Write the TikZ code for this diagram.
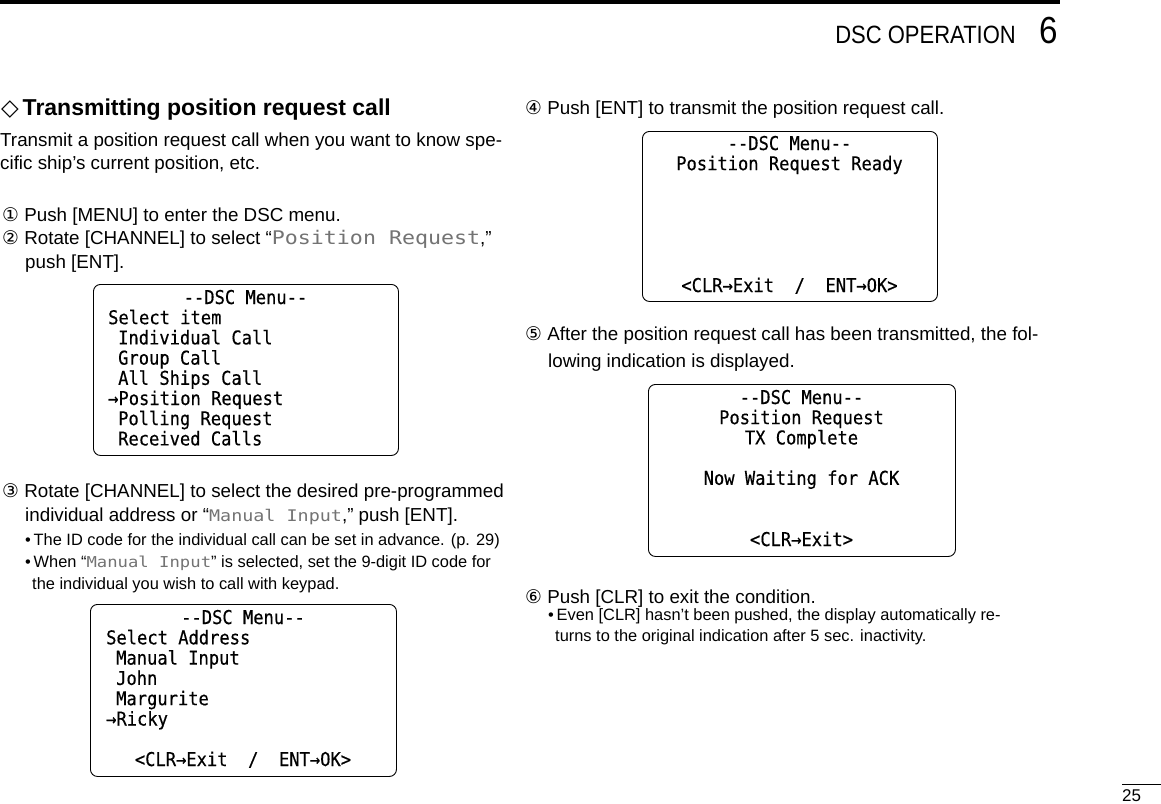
\documentclass[tikz,border=0pt]{standalone}
\usepackage{fontspec}
\setmainfont{Liberation Sans}
\newfontfamily\symfont{DejaVu Sans}
\newfontfamily\lcdfont{DejaVu Sans Mono}[FakeStretch=0.9, FakeBold=0.4]
\newfontfamily\lcdwide{DejaVu Sans Mono}[FakeStretch=1.15]
\newfontfamily\narrowfont{Liberation Sans}[FakeStretch=0.88]

\newcommand{\circnum}[1]{{\symfont #1}}
\newcommand{\lcdq}[2]{{\lcdwide\fontsize{#1}{#1}\selectfont\color{black!55}#2}}

\begin{document}
\begin{tikzpicture}[x=1pt, y=-1pt]
      \tikzstyle{body} = [anchor=base west, inner sep=0pt, font=\fontsize{18.8}{22}\selectfont]
      \tikzstyle{note} = [anchor=base west, inner sep=0pt, font=\fontsize{16.4}{19}\selectfont]
      \tikzstyle{screen} = [draw=black, line width=0.9pt, rounded corners=7pt, inner sep=0pt, anchor=north west]
      \tikzstyle{lcd} = [anchor=base west, inner sep=0pt, font=\lcdfont\fontsize{19}{20}\selectfont]
      \tikzstyle{lcdc} = [lcd, anchor=base]

      \useasboundingbox (0,0) rectangle (1161,803);

      % page header
      \draw [line width=4pt] (0,2) -- (1060,2);
      \node (title) [anchor=base east, inner sep=0pt, font=\narrowfont\fontsize{25}{25}\selectfont] at (1016,43) {DSC OPERATION};
      \node (chap) [anchor=base west, inner sep=0pt, font=\narrowfont\fontsize{37.7}{38}\selectfont] at (1039,43) {6};

      % left column
      \node (head) [body, font=\bfseries\fontsize{23}{26}\selectfont] at (1,115) {{\symfont ◇}\,Transmitting position request call};
      \node (intro1) [body] at (0,146) {Transmit a position request call when you want to know spe-};
      \node (intro2) [body] at (0,169) {cific ship’s current position, etc.};
      \node (st1) [body] at (2,221) {\circnum{①} Push [MENU] to enter the DSC menu.};
      \node (st2) [body] at (2,244) {\circnum{②} Rotate [CHANNEL] to select “\lcdq{18.8}{Position Request},”};
      \node (st2b) [body] at (25,268) {push [ENT].};

      \node (scr1) [screen, minimum width=305pt, minimum height=171pt] at (93,284) {};
      \node (scr1a) [lcdc] at (245.5,304) {-{}-DSC Menu-{}-};
      \node (scr1b) [lcd] at (108,324.2) {Select item};
      \node (scr1c) [lcd] at (118,344.4) {Individual Call};
      \node (scr1d) [lcd] at (118,364.6) {Group Call};
      \node (scr1e) [lcd] at (118,384.8) {All Ships Call};
      \node (scr1f) [lcd] at (108,405) {→Position Request};
      \node (scr1g) [lcd] at (118,425.2) {Polling Request};
      \node (scr1h) [lcd] at (118,445.4) {Received Calls};

      \node (st3) [body] at (2,497) {\circnum{③} Rotate [CHANNEL] to select the desired pre-programmed};
      \node (st3b) [body] at (25,521) {individual address or “\lcdq{16}{Manual Input},” push [ENT].};
      \node (st3c) [note] at (25,545) {•\,The ID code for the individual call can be set in advance. (p. 29)};
      \node (st3d) [note] at (25,567) {•\,When “\lcdq{15}{Manual Input}” is selected, set the 9-digit ID code for};
      \node (st3e) [note] at (32,589) {the individual you wish to call with keypad.};

      \node (scr2) [screen, minimum width=306pt, minimum height=172pt] at (90,604) {};
      \node (scr2a) [lcdc] at (243,624) {-{}-DSC Menu-{}-};
      \node (scr2b) [lcd] at (106,644.3) {Select Address};
      \node (scr2c) [lcd] at (116,664.6) {Manual Input};
      \node (scr2d) [lcd] at (116,684.9) {John};
      \node (scr2e) [lcd] at (116,705.2) {Margurite};
      \node (scr2f) [lcd] at (106,725.5) {→Ricky};
      \node (scr2g) [lcdc] at (243,766) {<CLR→Exit\ \ /\ \ ENT→OK>};

      % right column
      \node (st4) [body] at (525,114) {\circnum{④} Push [ENT] to transmit the position request call.};

      \node (scr3) [screen, minimum width=295pt, minimum height=170pt] at (642,131) {};
      \node (scr3a) [lcdc] at (789.5,150) {-{}-DSC Menu-{}-};
      \node (scr3b) [lcdc] at (789.5,170.2) {Position Request Ready};
      \node (scr3c) [lcdc] at (789.5,292) {<CLR→Exit\ \ /\ \ ENT→OK>};

      \node (st5) [body] at (525,340) {\circnum{⑤} After the position request call has been transmitted, the fol-};
      \node (st5b) [body] at (548,367) {lowing indication is displayed.};

      \node (scr4) [screen, minimum width=307pt, minimum height=172pt] at (648,384) {};
      \node (scr4a) [lcdc] at (801.5,404) {-{}-DSC Menu-{}-};
      \node (scr4b) [lcdc] at (801.5,424.2) {Position Request};
      \node (scr4c) [lcdc] at (801.5,444.4) {TX Complete};
      \node (scr4d) [lcdc] at (801.5,484.8) {Now Waiting for ACK};
      \node (scr4e) [lcdc] at (801.5,546) {<CLR→Exit>};

      \node (st6) [body] at (525,603) {\circnum{⑥} Push [CLR] to exit the condition.};
      \node (st6b) [note] at (548,620) {•\,Even [CLR] hasn’t been pushed, the display automatically re-};
      \node (st6c) [note] at (555,641) {turns to the original indication after 5 sec. inactivity.};

      % page number
      \draw (1122,784) -- (1161,784);
      \node (page) [anchor=base west, inner sep=0pt, font=\fontsize{17}{17}\selectfont] at (1122,801) {25};
\end{tikzpicture}
\end{document}
